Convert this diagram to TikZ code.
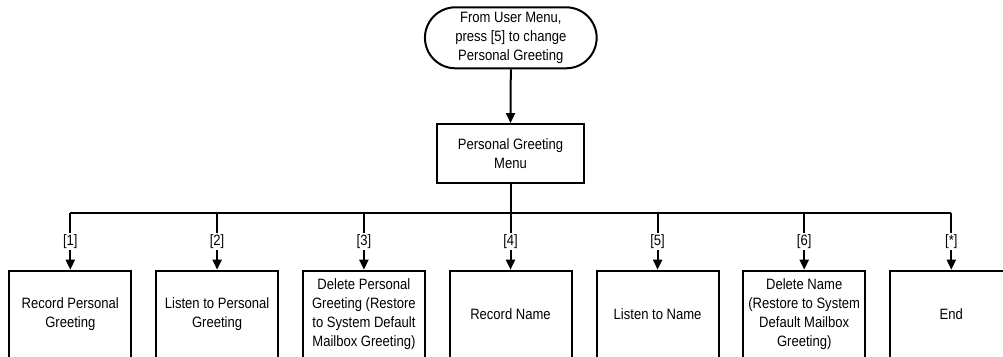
\documentclass[tikz,border=0pt]{standalone}
\usepackage{fontspec}
\setmainfont{Liberation Sans}[FakeStretch=0.87]
\usetikzlibrary{arrows.meta,shapes.misc}
\tikzset{
  diag/.style={line width=2pt, draw=black},
  boxtext/.style={font=\fontsize{15}{19}\selectfont, align=center, text=black},
  startnode/.style={diag, boxtext, rounded rectangle, minimum width=171.7pt, minimum height=61pt, inner sep=0pt},
  menubox/.style={diag, boxtext, rectangle, minimum width=147.6pt, minimum height=59.3pt, inner sep=0pt},
  optbox/.style={diag, boxtext, rectangle, minimum width=122pt, minimum height=87.3pt, inner sep=0pt},
  flow/.style={diag, -{Triangle[length=10pt,width=9pt]}},
  keylabel/.style={boxtext, fill=white, inner sep=1.5pt},
}
\begin{document}
\begin{tikzpicture}[x=1pt,y=-1pt]
\useasboundingbox (0,0) rectangle (1003,356);
\node[startnode] (start) at (510.8,37.8) {From User Menu,\\press [5] to change\\Personal Greeting};
\node[menubox] (menu) at (510.5,153.7) {Personal Greeting\\Menu};
\draw[flow] (start.south) -- (menu.north);

\foreach \i/\x in {1/70.3,2/217.1,3/363.9,4/510.5,5/657.6,6/804.2,7/951.3}{
  \coordinate (bus\i) at (\x,212.7);
}
\draw[diag] (menu.south) -- (menu.south |- bus1);
\draw[diag] (bus1) -- (bus7);

\node[optbox] (o1) at (70.3,314.35) {Record Personal\\Greeting};
\node[optbox] (o2) at (217.1,314.35) {Listen to Personal\\Greeting};
\node[optbox] (o3) at (363.9,314.35) {Delete Personal\\Greeting (Restore\\to System Default\\Mailbox Greeting)};
\node[optbox] (o4) at (510.5,314.35) {Record Name};
\node[optbox] (o5) at (657.6,314.35) {Listen to Name};
\node[optbox] (o6) at (804.2,314.35) {Delete Name\\(Restore to System\\Default Mailbox\\Greeting)};
\node[optbox] (o7) at (951.3,314.35) {End};

\draw[flow] (bus1) -- node[keylabel]{[1]} (o1.north);
\draw[flow] (bus2) -- node[keylabel]{[2]} (o2.north);
\draw[flow] (bus3) -- node[keylabel]{[3]} (o3.north);
\draw[flow] (bus4) -- node[keylabel]{[4]} (o4.north);
\draw[flow] (bus5) -- node[keylabel]{[5]} (o5.north);
\draw[flow] (bus6) -- node[keylabel]{[6]} (o6.north);
\draw[flow] (bus7) -- node[keylabel]{[*]} (o7.north);
\end{tikzpicture}
\end{document}
